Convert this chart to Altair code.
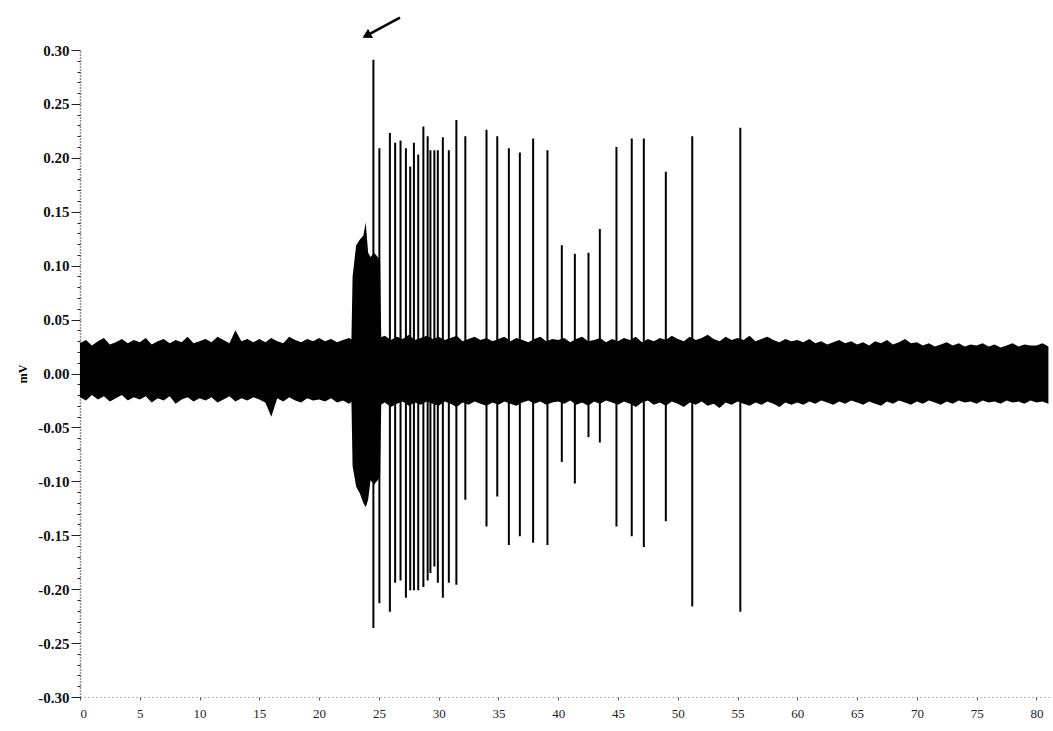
import altair as alt
import pandas as pd

# Baseline noise envelope (mV), sampled every 0.5 s from 0 to 81 s
band_top = [
    0.028, 0.031, 0.026, 0.030, 0.033, 0.027, 0.029, 0.032, 0.028, 0.031,
    0.029, 0.033, 0.027, 0.030, 0.032, 0.028, 0.031, 0.029, 0.034, 0.028,
    0.030, 0.032, 0.029, 0.034, 0.031, 0.028, 0.040, 0.030, 0.032, 0.029,
    0.032, 0.029, 0.033, 0.030, 0.028, 0.034, 0.031, 0.029, 0.032, 0.030,
    0.033, 0.030, 0.032, 0.029, 0.031, 0.033, 0.030, 0.032, 0.034, 0.031,
    0.033, 0.035, 0.031, 0.034, 0.032, 0.036, 0.031, 0.033, 0.035, 0.032,
    0.034, 0.031, 0.033, 0.035, 0.030, 0.032, 0.034, 0.031, 0.033, 0.030,
    0.032, 0.034, 0.030, 0.033, 0.031, 0.029, 0.032, 0.034, 0.030, 0.032,
    0.031, 0.033, 0.029, 0.032, 0.034, 0.030, 0.031, 0.033, 0.029, 0.032,
    0.030, 0.033, 0.031, 0.034, 0.029, 0.032, 0.030, 0.033, 0.031, 0.035,
    0.032, 0.030, 0.034, 0.031, 0.033, 0.036, 0.032, 0.030, 0.034, 0.031,
    0.033, 0.031, 0.035, 0.030, 0.032, 0.034, 0.031, 0.029, 0.032, 0.030,
    0.031, 0.029, 0.032, 0.028, 0.030, 0.027, 0.029, 0.031, 0.028, 0.030,
    0.027, 0.029, 0.026, 0.030, 0.028, 0.031, 0.027, 0.029, 0.032, 0.028,
    0.029, 0.026, 0.028, 0.025, 0.027, 0.029, 0.026, 0.028, 0.025, 0.027,
    0.026, 0.028, 0.025, 0.027, 0.024, 0.026, 0.028, 0.025, 0.027, 0.026,
    0.026, 0.028, 0.025,
]
band_bottom = [
    -0.022, -0.025, -0.020, -0.024, -0.021, -0.026, -0.023, -0.020, -0.025, -0.022,
    -0.024, -0.021, -0.027, -0.023, -0.025, -0.021, -0.028, -0.024, -0.022, -0.026,
    -0.023, -0.025, -0.022, -0.027, -0.024, -0.021, -0.026, -0.023, -0.025, -0.022,
    -0.024, -0.027, -0.040, -0.023, -0.026, -0.022, -0.025, -0.027, -0.023, -0.025,
    -0.024, -0.026, -0.023, -0.027, -0.025, -0.028, -0.024, -0.026, -0.029, -0.025,
    -0.030, -0.027, -0.031, -0.028, -0.026, -0.030, -0.027, -0.029, -0.026, -0.028,
    -0.030, -0.026, -0.028, -0.031, -0.027, -0.029, -0.026, -0.028, -0.030, -0.027,
    -0.029, -0.026, -0.028, -0.030, -0.027, -0.025, -0.028, -0.026, -0.029, -0.027,
    -0.026, -0.028, -0.025, -0.029, -0.027, -0.030, -0.026, -0.028, -0.025, -0.027,
    -0.029, -0.026, -0.028, -0.031, -0.027, -0.025, -0.029, -0.027, -0.030, -0.026,
    -0.028, -0.031, -0.027, -0.029, -0.026, -0.030, -0.028, -0.032, -0.027, -0.029,
    -0.026, -0.028, -0.030, -0.027, -0.029, -0.026, -0.028, -0.031, -0.027, -0.029,
    -0.027, -0.029, -0.026, -0.028, -0.025, -0.027, -0.029, -0.026, -0.028, -0.025,
    -0.027, -0.029, -0.026, -0.028, -0.030, -0.026, -0.028, -0.025, -0.027, -0.029,
    -0.026, -0.028, -0.025, -0.027, -0.029, -0.026, -0.028, -0.025, -0.027, -0.026,
    -0.028, -0.025, -0.027, -0.026, -0.028, -0.025, -0.027, -0.026, -0.028, -0.025,
    -0.027, -0.026, -0.028,
]
band_t = [0.5 * i for i in range(len(band_top))]

# High-frequency burst just before the first large spike
burst_t = [22.7, 22.8, 23.1, 23.4, 23.7, 23.9, 24.1, 24.3, 24.6, 24.9, 25.1, 25.2]
burst_top = [0.030, 0.090, 0.119, 0.124, 0.128, 0.140, 0.112, 0.108, 0.112, 0.108, 0.105, 0.030]
burst_bottom = [-0.025, -0.086, -0.105, -0.111, -0.120, -0.124, -0.117, -0.099, -0.103, -0.099, -0.095, -0.025]

# Individual spikes: time (s), positive peak and negative peak (mV)
spike_t = [
    24.54, 25.04, 25.92, 26.36, 26.81, 27.26, 27.62, 27.93, 28.29, 28.72,
    29.08, 29.31, 29.64, 29.93, 30.35, 30.85, 31.48, 32.23, 34.00, 34.90,
    35.87, 36.79, 37.90, 39.10, 40.30, 41.39, 42.53, 43.48, 44.87, 46.15,
    47.16, 49.00, 51.21, 55.23,
]
spike_top = [
    0.291, 0.209, 0.223, 0.214, 0.216, 0.209, 0.192, 0.214, 0.203, 0.229,
    0.220, 0.207, 0.207, 0.207, 0.219, 0.207, 0.235, 0.220, 0.226, 0.220,
    0.209, 0.205, 0.218, 0.207, 0.119, 0.111, 0.112, 0.134, 0.210, 0.218,
    0.218, 0.187, 0.220, 0.228,
]
spike_bottom = [
    -0.236, -0.213, -0.221, -0.194, -0.192, -0.208, -0.201, -0.201, -0.201, -0.198,
    -0.192, -0.185, -0.179, -0.194, -0.208, -0.194, -0.196, -0.117, -0.142, -0.114,
    -0.159, -0.151, -0.157, -0.159, -0.082, -0.102, -0.059, -0.064, -0.142, -0.151,
    -0.161, -0.137, -0.216, -0.221,
]

# Arrow marking the first large spike
arrow_tail = (26.76, 0.330)
arrow_head = (24.08, 0.314)

x_ticks = list(range(0, 85, 5))
y_ticks = [round(-0.30 + 0.01 * i, 2) for i in range(61)]

band_df = pd.DataFrame({"t": band_t, "top": band_top, "bottom": band_bottom})
burst_df = pd.DataFrame({"t": burst_t, "top": burst_top, "bottom": burst_bottom})
spike_df = pd.DataFrame({"t": spike_t, "top": spike_top, "bottom": spike_bottom})
arrow_df = pd.DataFrame({
    "t": [arrow_tail[0]], "top": [arrow_tail[1]],
    "t2": [arrow_head[0]], "bottom": [arrow_head[1]],
})

SERIF = "Liberation Serif"
x_scale = alt.Scale(domain=[0, 81.3], nice=False, zero=False)
y_scale = alt.Scale(domain=[-0.30, 0.30], nice=False, zero=False)

x_axis = alt.Axis(
    values=x_ticks, format="d", title=None, grid=False,
    labelFont=SERIF, labelFontSize=13, labelColor="#222",
    tickSize=3, tickColor="#555", labelPadding=7,
    domainColor="#777", domainDash=[1, 3], domainWidth=1,
)
y_axis = alt.Axis(
    values=y_ticks, title="mV", grid=False,
    labelExpr="round(datum.value*100) % 5 == 0 ? (datum.value < 0 ? '-' : '') + format(abs(datum.value), '.2f') : ''",
    labelFont=SERIF, labelFontSize=15, labelFontWeight="bold", labelColor="#111",
    labelPadding=2,
    tickSize={"condition": {"test": "round(datum.value*100) % 5 == 0", "value": 9}, "value": 3},
    tickColor="#222", tickWidth=1,
    domainColor="#222", domainDash=[1, 2], domainWidth=1.5,
    titleFont=SERIF, titleFontSize=12, titleFontWeight="bold", titlePadding=8,
)

X = alt.X("t:Q", scale=x_scale, axis=x_axis)
Y = alt.Y("top:Q", scale=y_scale, axis=y_axis)

band = alt.Chart(band_df).mark_area(color="black", interpolate="linear").encode(
    x=X, y=Y, y2="bottom:Q",
)

burst = alt.Chart(burst_df).mark_area(color="black", interpolate="linear").encode(
    x=X, y=Y, y2="bottom:Q",
)

spikes = alt.Chart(spike_df).mark_rule(color="black", strokeWidth=2).encode(
    x=X, y=Y, y2="bottom:Q",
)

arrow_line = alt.Chart(arrow_df).mark_rule(color="black", strokeWidth=2.5).encode(
    x=X, y=Y, x2="t2:Q", y2="bottom:Q",
)

arrow_tip = alt.Chart(arrow_df).mark_point(
    shape="triangle", filled=True, color="black", size=110, angle=241.6, opacity=1
).encode(
    x=alt.X("t2:Q", scale=x_scale, axis=x_axis),
    y=alt.Y("bottom:Q", scale=y_scale, axis=y_axis),
)

chart = alt.layer(band, burst, spikes, arrow_line, arrow_tip).properties(
    width=972,
    height=647,
    autosize="none",
    padding={"left": 80, "top": 50, "right": 1, "bottom": 34},
    background="white",
).configure_view(stroke=None)

chart.save("out.html", embed_options={"renderer": "svg", "actions": False})
